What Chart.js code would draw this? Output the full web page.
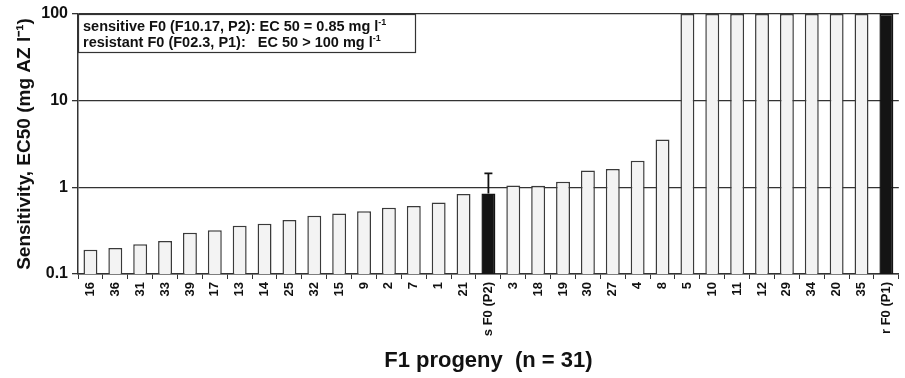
<!DOCTYPE html>
<html>
<head>
<meta charset="utf-8">
<script src="https://cdn.jsdelivr.net/npm/chart.js@4"></script>
<style>
  html, body { margin: 0; padding: 0; background: #fff; }
  #wrap { width: 905px; height: 378px; }
</style>
</head>
<body>
<div id="wrap"><canvas id="ecChart"></canvas></div>
<script>
// F1 progeny + parents (s F0 / r F0)
var progeny = ['16', '36', '31', '33', '39', '17', '13', '14', '25', '32', '15', '9', '2', '7', '1', '21',
               's F0 (P2)', '3', '18', '19', '30', '27', '4', '8', '5', '10', '11', '12', '29', '34', '20', '35', 'r F0 (P1)'];
var ec50 = [0.19, 0.20, 0.22, 0.24, 0.30, 0.32, 0.36, 0.38, 0.42, 0.47, 0.50, 0.53, 0.58, 0.61, 0.67, 0.84,
            0.85, 1.05, 1.04, 1.16, 1.56, 1.63, 2.03, 3.56, 100, 100, 100, 100, 100, 100, 100, 100, 100];
// upper end of error bar (only the sensitive parent has one)
var errorHigh = [null, null, null, null, null, null, null, null, null, null, null, null, null, null, null, null,
                 1.45, null, null, null, null, null, null, null, null, null, null, null, null, null, null, null, null];
var yTicks = [0.1, 1, 10, 100];

var fontFam = '"Liberation Sans", Arial, sans-serif';
var isParent = progeny.map(function(l) { return l.indexOf('F0') >= 0; });

// error bar drawn through the y scale
var errorBars = {
    id: 'errorBars',
    afterDatasetsDraw: function(chart) {
        var ctx = chart.ctx;
        var meta = chart.getDatasetMeta(0);
        var y = chart.scales.y;
        ctx.save();
        ctx.strokeStyle = '#111';
        ctx.lineWidth = 1.8;
        for (var i = 0; i < errorHigh.length; i++) {
            if (errorHigh[i] == null) continue;
            var bar = meta.data[i];
            var top = y.getPixelForValue(errorHigh[i]);
            var base = y.getPixelForValue(ec50[i]);
            ctx.beginPath();
            ctx.moveTo(bar.x, base);
            ctx.lineTo(bar.x, top);
            ctx.moveTo(bar.x - 4, top);
            ctx.lineTo(bar.x + 4, top);
            ctx.stroke();
        }
        ctx.restore();
    }
};

// text box in the top-left corner
var infoBox = {
    id: 'infoBox',
    afterDraw: function(chart) {
        var ctx = chart.ctx;
        var a = chart.chartArea;
        var x0 = a.left, y0 = a.top, w = 337, h = 38;
        ctx.save();
        ctx.fillStyle = '#fff';
        ctx.fillRect(x0, y0, w, h);
        ctx.strokeStyle = '#333';
        ctx.lineWidth = 1.2;
        ctx.strokeRect(x0 + 0.5, y0 + 0.5, w, h);
        ctx.fillStyle = '#111';
        ctx.textBaseline = 'alphabetic';
        var lines = ['sensitive F0 (F10.17, P2): EC 50 = 0.85 mg l',
                     'resistant F0 (F02.3, P1):   EC 50 > 100 mg l'];
        for (var i = 0; i < lines.length; i++) {
            var by = y0 + 17 + i * 16;
            ctx.font = 'bold 14.5px ' + fontFam;
            ctx.fillText(lines[i], x0 + 5, by);
            var tw = ctx.measureText(lines[i]).width;
            ctx.font = 'bold 9px ' + fontFam;
            ctx.fillText('-1', x0 + 5 + tw, by - 6);
        }
        ctx.restore();
    }
};

new Chart(document.getElementById('ecChart'), {
    type: 'bar',
    data: {
        labels: progeny,
        datasets: [{
            data: ec50,
            backgroundColor: isParent.map(function(p) { return p ? '#141414' : '#f3f3f3'; }),
            borderColor: isParent.map(function(p) { return p ? '#141414' : '#3a3a3a'; }),
            borderWidth: 1.5,
            barPercentage: 0.56,
            categoryPercentage: 1.0
        }]
    },
    options: {
        responsive: true,
        maintainAspectRatio: false,
        animation: false,
        layout: { padding: { top: 14, right: 1, bottom: 0, left: 0 } },
        plugins: {
            legend: { display: false },
            tooltip: { enabled: false }
        },
        scales: {
            x: {
                offset: true,
                grid: {
                    offset: true,
                    drawOnChartArea: false,
                    color: '#333',
                    tickLength: 5,
                    tickColor: '#333'
                },
                border: { color: '#333', width: 1.5 },
                ticks: {
                    autoSkip: false,
                    minRotation: 90,
                    maxRotation: 90,
                    padding: 3,
                    color: '#111',
                    font: { family: fontFam, size: 13, weight: 'bold' }
                },
                title: {
                    display: true,
                    text: 'F1 progeny  (n = 31)',
                    color: '#111',
                    font: { family: fontFam, size: 22, weight: 'bold' },
                    padding: { top: 0, bottom: 4 }
                },
                afterFit: function(scale) { scale.height = 104; }
            },
            y: {
                type: 'logarithmic',
                min: 0.1,
                max: 100,
                afterBuildTicks: function(scale) {
                    scale.ticks = yTicks.map(function(v) { return { value: v }; });
                },
                grid: {
                    color: '#333',
                    lineWidth: 1.3,
                    tickLength: 6,
                    tickColor: '#333'
                },
                border: { color: '#333', width: 1.5 },
                ticks: {
                    padding: 4,
                    color: '#111',
                    font: { family: fontFam, size: 16, weight: 'bold' },
                    callback: function(v) { return String(v); }
                },
                title: {
                    display: true,
                    text: 'Sensitivity, EC50 (mg AZ l\u207B\u00B9)',
                    color: '#111',
                    font: { family: fontFam, size: 19, weight: 'bold' },
                    padding: { top: 13, bottom: 0 }
                },
                afterFit: function(scale) { scale.width = 78; }
            }
        }
    },
    plugins: [errorBars, infoBox]
});
</script>
</body>
</html>
